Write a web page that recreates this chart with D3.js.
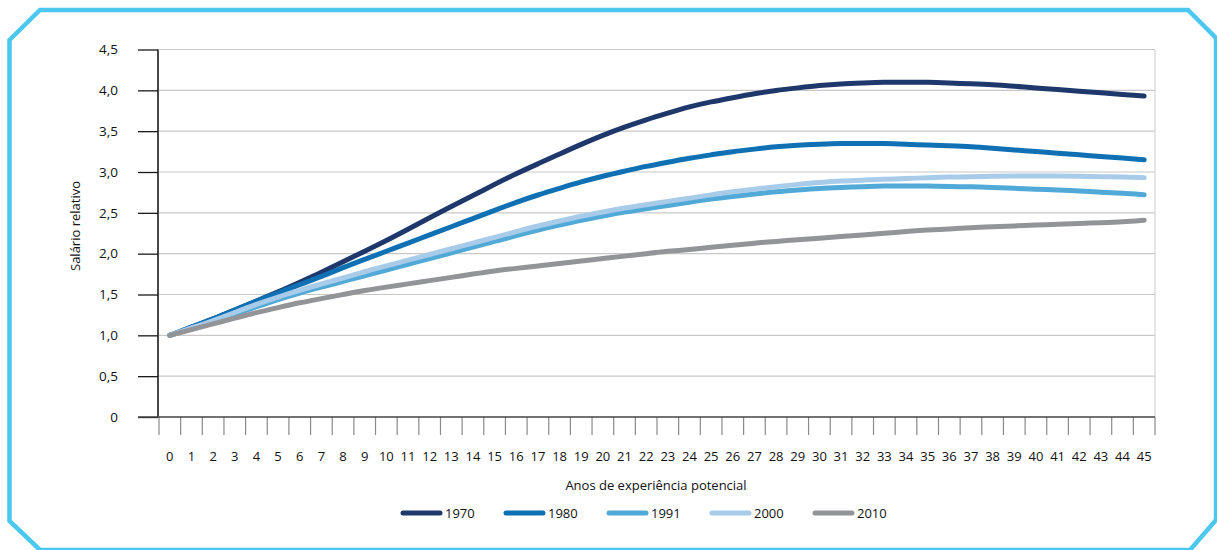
<!DOCTYPE html>
<html>
<head>
<meta charset="utf-8">
<script src="https://cdn.jsdelivr.net/npm/d3@7"></script>
<style>
  html, body { margin: 0; padding: 0; background: #fff; overflow: hidden; }
  svg { display: block; }
  text { font-family: "Open Sans", "Noto Sans", sans-serif; fill: #111; }
</style>
</head>
<body>
<svg id="chart" width="1217" height="550"></svg>
<script>
// ---- Data ----
const years = d3.range(0, 46); // Anos de experiência potencial 0..45
const yTicks = [0, 0.5, 1.0, 1.5, 2.0, 2.5, 3.0, 3.5, 4.0, 4.5];
const seriesNames = ["1970", "1980", "1991", "2000", "2010"];
const seriesColors = ["#1F386B", "#0F70B4", "#50A9D7", "#A8CBEA", "#939497"];

const s1970 = [1.00,1.10,1.20,1.31,1.42,1.53,1.65,1.77,1.90,2.03,2.16,2.30,2.44,2.58,2.71,2.85,2.98,3.10,3.22,3.34,3.45,3.55,3.64,3.72,3.80,3.86,3.91,3.96,4.00,4.03,4.06,4.08,4.09,4.10,4.10,4.10,4.09,4.08,4.07,4.05,4.03,4.01,3.99,3.97,3.95,3.93];
const s1980 = [1.00,1.10,1.20,1.31,1.42,1.52,1.62,1.72,1.83,1.93,2.03,2.13,2.23,2.33,2.43,2.53,2.63,2.72,2.80,2.88,2.95,3.01,3.07,3.12,3.17,3.21,3.25,3.28,3.31,3.33,3.34,3.35,3.35,3.35,3.34,3.33,3.32,3.31,3.29,3.27,3.25,3.23,3.21,3.19,3.17,3.15];
const s1991 = [1.00,1.08,1.17,1.26,1.35,1.44,1.52,1.59,1.66,1.73,1.80,1.87,1.94,2.01,2.08,2.15,2.22,2.29,2.35,2.41,2.46,2.51,2.55,2.59,2.63,2.67,2.70,2.73,2.76,2.78,2.80,2.81,2.82,2.83,2.83,2.83,2.82,2.82,2.81,2.80,2.79,2.78,2.77,2.75,2.74,2.72];
const s2000 = [1.00,1.09,1.18,1.28,1.38,1.47,1.55,1.63,1.70,1.78,1.85,1.92,1.99,2.06,2.13,2.20,2.27,2.34,2.40,2.46,2.51,2.56,2.60,2.64,2.68,2.72,2.76,2.79,2.82,2.85,2.87,2.89,2.90,2.91,2.92,2.93,2.94,2.94,2.95,2.95,2.95,2.95,2.95,2.94,2.94,2.93];
const s2010 = [1.00,1.07,1.14,1.21,1.28,1.34,1.40,1.45,1.50,1.55,1.59,1.63,1.67,1.71,1.75,1.79,1.82,1.85,1.88,1.91,1.94,1.97,2.00,2.03,2.05,2.08,2.10,2.13,2.15,2.17,2.19,2.21,2.23,2.25,2.27,2.29,2.30,2.32,2.33,2.34,2.35,2.36,2.37,2.38,2.39,2.41];
const seriesValues = [s1970, s1980, s1991, s2000, s2010];

const xTitle = "Anos de experiência potencial";
const yTitle = "Salário relativo";

// ---- Layout ----
const svg = d3.select("#chart");
const plot = { left: 159, right: 1155, top: 49.5, bottom: 417 };

// Frame
const frame = [[9.5,40],[40,10],[1188,10],[1216,38],[1216,520],[1190,550],[40,550],[9.5,521]];
svg.append("path")
  .attr("d", d3.line()(frame) + "Z")
  .attr("fill", "none")
  .attr("stroke", "#4CC8F0")
  .attr("stroke-width", 4.5)
  .attr("stroke-linejoin", "miter");

const x = d3.scaleBand().domain(years).range([plot.left, plot.right]).padding(0);
const y = d3.scaleLinear().domain([0, 4.5]).range([plot.bottom, plot.top]);
const fmt = v => v === 0 ? "0" : d3.format(".1f")(v).replace(".", ",");

// Gridlines
svg.append("g").selectAll("line").data(yTicks.filter(d => d > 0)).join("line")
  .attr("x1", plot.left).attr("x2", plot.right)
  .attr("y1", d => y(d)).attr("y2", d => y(d))
  .attr("stroke", "#C8C8C8").attr("stroke-width", 1.2);

// right border of plot
svg.append("line")
  .attr("x1", plot.right).attr("x2", plot.right)
  .attr("y1", plot.top).attr("y2", plot.bottom)
  .attr("stroke", "#D4D4D4").attr("stroke-width", 1.2);

// Y axis
const yAxis = d3.axisLeft(y).tickValues(yTicks).tickSize(20).tickPadding(20).tickFormat(fmt);
const gy = svg.append("g").attr("transform", `translate(${plot.left - 1},0)`).call(yAxis);
gy.select(".domain").attr("stroke", "#1a1a1a").attr("stroke-width", 1.6).attr("d", `M0,${plot.top}V${plot.bottom}`);
gy.selectAll(".tick line").attr("stroke", "#1a1a1a").attr("stroke-width", 1.3);
gy.selectAll(".tick text").attr("font-size", 13.5).attr("fill", "#111")
  .style("font-family", '"Open Sans", sans-serif');

// X axis (ticks at band boundaries, labels centred in bands)
const xTickPos = d3.range(0, 47).map(i => plot.left + i * x.bandwidth());
svg.append("g").selectAll("line").data(xTickPos).join("line")
  .attr("x1", d => d).attr("x2", d => d)
  .attr("y1", plot.bottom).attr("y2", plot.bottom + 18)
  .attr("stroke", "#8a8a8a").attr("stroke-width", 1.2);
svg.append("line")
  .attr("x1", 138).attr("x2", plot.right)
  .attr("y1", plot.bottom).attr("y2", plot.bottom)
  .attr("stroke", "#444").attr("stroke-width", 1.6);
svg.append("g").selectAll("text").data(years).join("text")
  .attr("x", d => x(d) + x.bandwidth() / 2)
  .attr("y", 461)
  .attr("text-anchor", "middle")
  .attr("font-size", 13)
  .text(d => d);

// Axis titles
svg.append("text")
  .attr("x", 656).attr("y", 490)
  .attr("text-anchor", "middle").attr("font-size", 13)
  .text(xTitle);
svg.append("text")
  .attr("transform", `translate(80,226) rotate(-90)`)
  .attr("text-anchor", "middle").attr("font-size", 13)
  .text(yTitle);

// Lines
const line = d3.line()
  .x((d, i) => x(years[i]) + x.bandwidth() / 2)
  .y(d => y(d))
  .curve(d3.curveBasis);
svg.append("g").selectAll("path").data(seriesValues).join("path")
  .attr("d", d => line(d))
  .attr("fill", "none")
  .attr("stroke", (d, i) => seriesColors[i])
  .attr("stroke-width", 5)
  .attr("stroke-linecap", "round")
  .attr("stroke-linejoin", "round");

// Legend
const lg = svg.append("g").selectAll("g").data(seriesNames).join("g")
  .attr("transform", (d, i) => `translate(${401 + i * 103},513)`);
lg.append("line")
  .attr("x1", 2).attr("x2", 39).attr("y1", 0).attr("y2", 0)
  .attr("stroke", (d, i) => seriesColors[i])
  .attr("stroke-width", 5).attr("stroke-linecap", "round");
lg.append("text")
  .attr("x", 44).attr("y", 5)
  .attr("font-size", 13)
  .text(d => d);
</script>
</body>
</html>
